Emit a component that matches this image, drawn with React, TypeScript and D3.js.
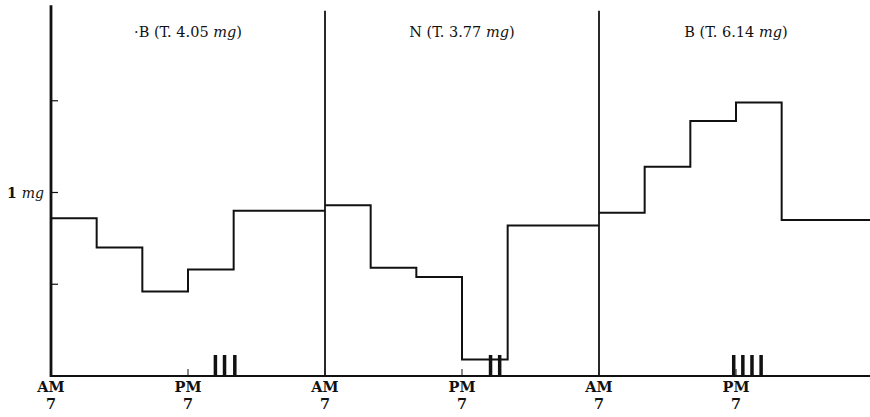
import { useEffect, useRef } from "react";
import * as d3 from "d3";

// each day runs 7 AM -> 7 AM, periods in hours since 7 AM
const periodStarts = [0, 4, 8, 12, 16, 24];
const dayTitles = ["·B", "N", "B"];
const dayTotals = ["4.05", "3.77", "6.14"];
const dayValues = [
  [0.86, 0.7, 0.46, 0.58, 0.9],
  [0.93, 0.59, 0.54, 0.09, 0.82],
  [0.89, 1.14, 1.39, 1.49, 0.85],
];
// bold strokes near the bottom, hours since 7 AM
const tallyHours = [
  [14.4, 15.2, 16.1],
  [14.5, 15.3],
  [11.8, 12.6, 13.4, 14.2],
];
const yTicks = [0.5, 1, 1.5];

const W = 870;
const H = 417;
const FONT = "'DejaVu Serif', 'Liberation Serif', serif";

export default function App() {
  const svgRef = useRef<SVGSVGElement>(null);

  useEffect(() => {
    const svg = d3.select(svgRef.current);
    svg.selectAll("*").remove();

    const x = d3.scaleLinear().domain([0, 72]).range([51, 873]);
    const y = d3.scaleLinear().domain([0, 2]).range([376, 9]);

    // step lines
    const line = d3
      .line<[number, number]>()
      .x((d) => x(d[0]))
      .y((d) => y(d[1]))
      .curve(d3.curveStepAfter);

    dayValues.forEach((vals, di) => {
      const off = di * 24;
      const pts: [number, number][] = periodStarts.map((h, i) => [
        off + h,
        vals[Math.min(i, vals.length - 1)],
      ]);
      svg
        .append("path")
        .attr("d", line(pts))
        .attr("fill", "none")
        .attr("stroke", "#111")
        .attr("stroke-width", 2);
    });

    // baseline
    svg
      .append("line")
      .attr("x1", x(0))
      .attr("x2", x(72))
      .attr("y1", y(0))
      .attr("y2", y(0))
      .attr("stroke", "#111")
      .attr("stroke-width", 2);

    // left axis
    svg
      .append("line")
      .attr("x1", x(0))
      .attr("x2", x(0))
      .attr("y1", y(2.02))
      .attr("y2", y(0) + 1)
      .attr("stroke", "#111")
      .attr("stroke-width", 2.8);

    svg
      .selectAll("line.ytick")
      .data(yTicks)
      .join("line")
      .attr("class", "ytick")
      .attr("x1", x(0))
      .attr("x2", x(0) + 7)
      .attr("y1", (d) => y(d))
      .attr("y2", (d) => y(d))
      .attr("stroke", "#111")
      .attr("stroke-width", 1.2);

    const lbl = svg
      .append("text")
      .attr("x", 7)
      .attr("y", y(1) + 5)
      .attr("font-family", FONT)
      .attr("font-size", 14)
      .attr("fill", "#111");
    lbl.append("tspan").attr("font-weight", "bold").text("1 ");
    lbl.append("tspan").attr("font-style", "italic").text("mg");

    // day dividers
    svg
      .selectAll("line.div")
      .data([24, 48])
      .join("line")
      .attr("class", "div")
      .attr("x1", (d) => x(d))
      .attr("x2", (d) => x(d))
      .attr("y1", y(1.99))
      .attr("y2", y(0))
      .attr("stroke", "#111")
      .attr("stroke-width", 1.8);

    // PM tick marks on baseline
    svg
      .selectAll("line.pm")
      .data([12, 36, 60])
      .join("line")
      .attr("class", "pm")
      .attr("x1", (d) => x(d))
      .attr("x2", (d) => x(d))
      .attr("y1", y(0) - 7)
      .attr("y2", y(0))
      .attr("stroke", "#111")
      .attr("stroke-width", 1);

    // tallies
    tallyHours.forEach((hs, di) => {
      svg
        .selectAll(`line.tally${di}`)
        .data(hs)
        .join("line")
        .attr("class", `tally${di}`)
        .attr("x1", (d) => x(di * 24 + d))
        .attr("x2", (d) => x(di * 24 + d))
        .attr("y1", y(0) - 21)
        .attr("y2", y(0))
        .attr("stroke", "#111")
        .attr("stroke-width", 3.5);
    });

    // titles
    dayTitles.forEach((t, di) => {
      const tx = svg
        .append("text")
        .attr("x", x(di * 24 + 12))
        .attr("y", 37)
        .attr("text-anchor", "middle")
        .attr("font-family", FONT)
        .attr("font-size", 14.5)
        .attr("fill", "#111");
      tx.append("tspan").text(`${t} (T. ${dayTotals[di]} `);
      tx.append("tspan").attr("font-style", "italic").text("mg");
      tx.append("tspan").text(")");
    });

    // time labels
    const timeTicks = [0, 12, 24, 36, 48, 60];
    const tg = svg
      .selectAll("g.time")
      .data(timeTicks)
      .join("g")
      .attr("class", "time")
      .attr("transform", (d) => `translate(${x(d)},0)`);
    tg.append("text")
      .attr("y", 392)
      .attr("text-anchor", "middle")
      .attr("font-family", FONT)
      .attr("font-size", 14.5)
      .attr("font-weight", 600)
      .attr("fill", "#111")
      .text((d) => (d % 24 === 0 ? "AM" : "PM"));
    tg.append("text")
      .attr("y", 409)
      .attr("text-anchor", "middle")
      .attr("font-family", FONT)
      .attr("font-size", 14.5)
      .attr("font-weight", 600)
      .attr("fill", "#111")
      .text("7");
  }, []);

  return (
    <svg
      ref={svgRef}
      width={W}
      height={H}
      style={{ position: "absolute", left: 0, top: 0, background: "#fff" }}
    />
  );
}
